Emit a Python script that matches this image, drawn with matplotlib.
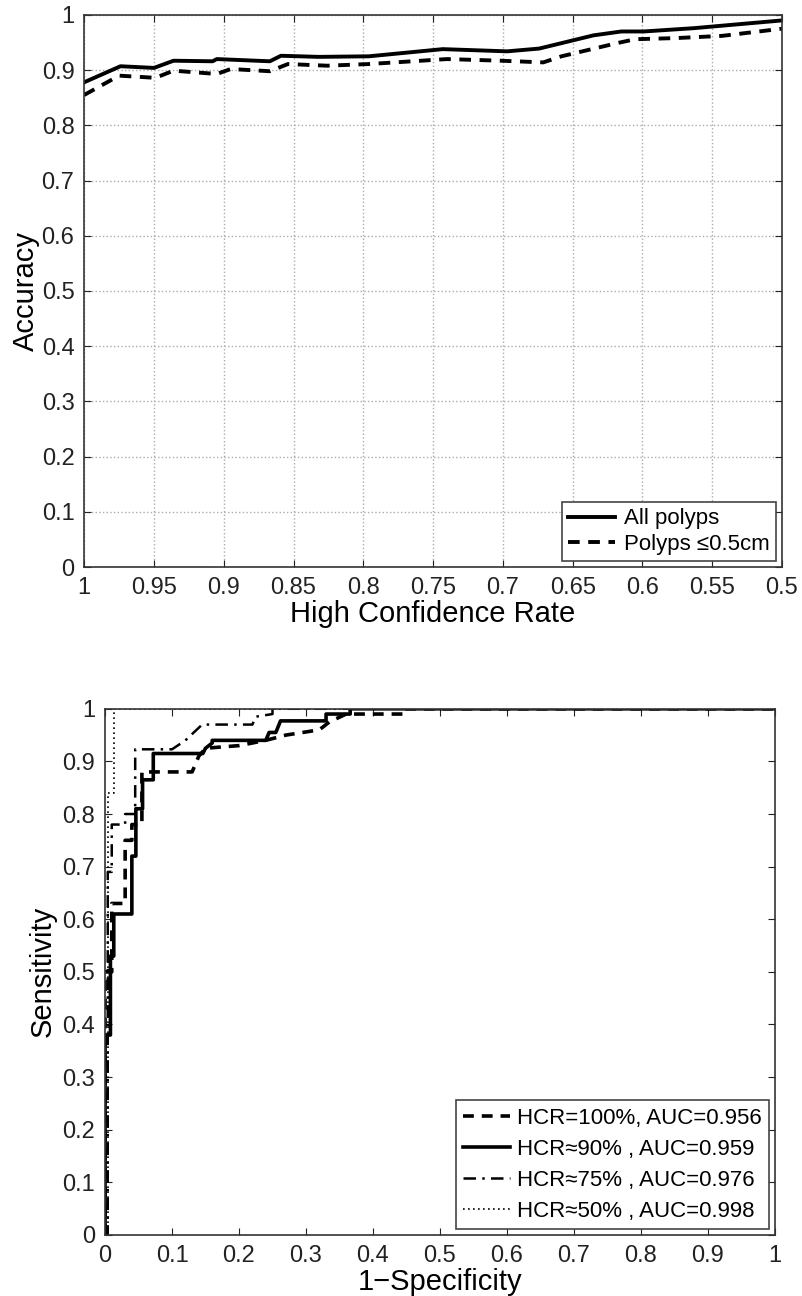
import matplotlib.pyplot as plt

plt.rcParams['font.family'] = ['Liberation Sans', 'DejaVu Sans']

# top panel: accuracy vs high confidence rate
hcr_all = [1.0, 0.974, 0.95, 0.936, 0.908, 0.905, 0.867, 0.859, 0.832, 0.796,
           0.743, 0.697, 0.674, 0.635, 0.615, 0.599, 0.563, 0.5]
acc_all = [0.878, 0.907, 0.904, 0.917, 0.916, 0.920, 0.916, 0.926, 0.924, 0.925,
           0.938, 0.934, 0.939, 0.963, 0.970, 0.970, 0.976, 0.990]
hcr_small = [1.0, 0.975, 0.949, 0.936, 0.905, 0.895, 0.867, 0.854, 0.826, 0.796,
             0.740, 0.701, 0.671, 0.658, 0.618, 0.605, 0.576, 0.543, 0.5]
acc_small = [0.855, 0.890, 0.886, 0.899, 0.893, 0.902, 0.898, 0.911, 0.908, 0.911,
             0.920, 0.917, 0.914, 0.925, 0.949, 0.956, 0.958, 0.962, 0.975]

# bottom panel: ROC curves
fpr_100 = [0, 0, 0.010, 0.010, 0.030, 0.030, 0.040, 0.040, 0.055, 0.055, 0.130,
           0.135, 0.140, 0.150, 0.200, 0.240, 0.270, 0.320, 0.335, 0.360, 0.445, 0.445, 1.0]
tpr_100 = [0, 0.50, 0.50, 0.63, 0.63, 0.75, 0.75, 0.78, 0.78, 0.88, 0.88,
           0.895, 0.91, 0.925, 0.93, 0.94, 0.95, 0.96, 0.975, 0.99, 0.99, 1.0, 1.0]
fpr_90 = [0, 0, 0.008, 0.008, 0.013, 0.013, 0.040, 0.040, 0.046, 0.046, 0.056, 0.056,
          0.072, 0.072, 0.146, 0.150, 0.160, 0.160, 0.240, 0.245, 0.255, 0.262,
          0.330, 0.330, 0.366, 0.366, 1.0]
tpr_90 = [0, 0.38, 0.38, 0.53, 0.53, 0.61, 0.61, 0.72, 0.72, 0.81, 0.81, 0.865,
          0.865, 0.915, 0.915, 0.925, 0.935, 0.94, 0.94, 0.955, 0.955, 0.977,
          0.977, 0.99, 0.99, 1.0, 1.0]
fpr_75 = [0, 0.004, 0.004, 0.010, 0.010, 0.030, 0.030, 0.045, 0.045, 0.100, 0.120,
          0.145, 0.220, 0.225, 0.250, 0.250, 1.0]
tpr_75 = [0, 0, 0.69, 0.69, 0.78, 0.78, 0.80, 0.80, 0.923, 0.923, 0.94,
          0.97, 0.97, 0.985, 0.99, 1.0, 1.0]
fpr_50 = [0, 0.004, 0.004, 0.014, 0.014, 1.0]
tpr_50 = [0, 0, 0.84, 0.84, 1.0, 1.0]

roc_labels = ['HCR=100%, AUC=0.956', 'HCR\u224890% , AUC=0.959',
              'HCR\u224875% , AUC=0.976', 'HCR\u224850% , AUC=0.998']

tick_txt = ['0', '0.1', '0.2', '0.3', '0.4', '0.5', '0.6', '0.7', '0.8', '0.9', '1']

fig = plt.figure(figsize=(8.02, 12.96), dpi=100)

ax1 = fig.add_axes([0.105, 0.5625, 0.870, 0.426])
ax1.plot(hcr_all, acc_all, color='black', lw=2.8, label='All polyps')
ax1.plot(hcr_small, acc_small, color='black', lw=2.8, dashes=(3, 2.2),
         label='Polyps \u22640.5cm')
ax1.set_xlim(1, 0.5)
ax1.set_ylim(0, 1)
ax1.set_xticks([1, 0.95, 0.9, 0.85, 0.8, 0.75, 0.7, 0.65, 0.6, 0.55, 0.5])
ax1.set_xticklabels(['1', '0.95', '0.9', '0.85', '0.8', '0.75', '0.7',
                     '0.65', '0.6', '0.55', '0.5'])
ax1.set_yticks([i / 10 for i in range(11)])
ax1.set_yticklabels(tick_txt)
ax1.grid(True, linestyle=':', color='#aaaaaa', lw=1)
ax1.set_xlabel('High Confidence Rate', fontsize=21, labelpad=1)
ax1.set_ylabel('Accuracy', fontsize=21, labelpad=1)
ax1.legend(loc='lower right', fontsize=16, handlelength=2.1,
           fancybox=False, edgecolor='#444444', framealpha=1,
           borderaxespad=0.25, handletextpad=0.4, labelspacing=0.2,
           borderpad=0.3)

ax2 = fig.add_axes([0.131, 0.0471, 0.835, 0.406])
ax2.plot(fpr_100, tpr_100, color='black', lw=2.6, dashes=(3, 2.2), label=roc_labels[0])
ax2.plot(fpr_90, tpr_90, color='black', lw=2.6, label=roc_labels[1])
ax2.plot(fpr_75, tpr_75, color='black', lw=1.8, dashes=(5, 2.5, 1, 2.5), label=roc_labels[2])
ax2.plot(fpr_50, tpr_50, color='black', lw=1.2, dashes=(1, 2), label=roc_labels[3])
ax2.set_xlim(0, 1)
ax2.set_ylim(0, 1)
ax2.set_xticks([i / 10 for i in range(11)])
ax2.set_xticklabels(tick_txt)
ax2.set_yticks([i / 10 for i in range(11)])
ax2.set_yticklabels(tick_txt)
ax2.set_xlabel('1\u2212Specificity', fontsize=21, labelpad=1)
ax2.set_ylabel('Sensitivity', fontsize=21, labelpad=4)
ax2.legend(loc='lower right', fontsize=16, handlelength=2.1,
           fancybox=False, edgecolor='#444444', framealpha=1,
           borderaxespad=0.25, handletextpad=0.3, labelspacing=0.45,
           borderpad=0.35)

for ax in (ax1, ax2):
    ax.tick_params(direction='in', length=5, width=0.8, top=True, right=True,
                   labelsize=17, colors='#222222', pad=7)
    for s in ax.spines.values():
        s.set_linewidth(1.2)
        s.set_color('#333333')
    ax.get_legend().get_frame().set_linewidth(1.2)

fig.savefig('out.png', dpi=100)
